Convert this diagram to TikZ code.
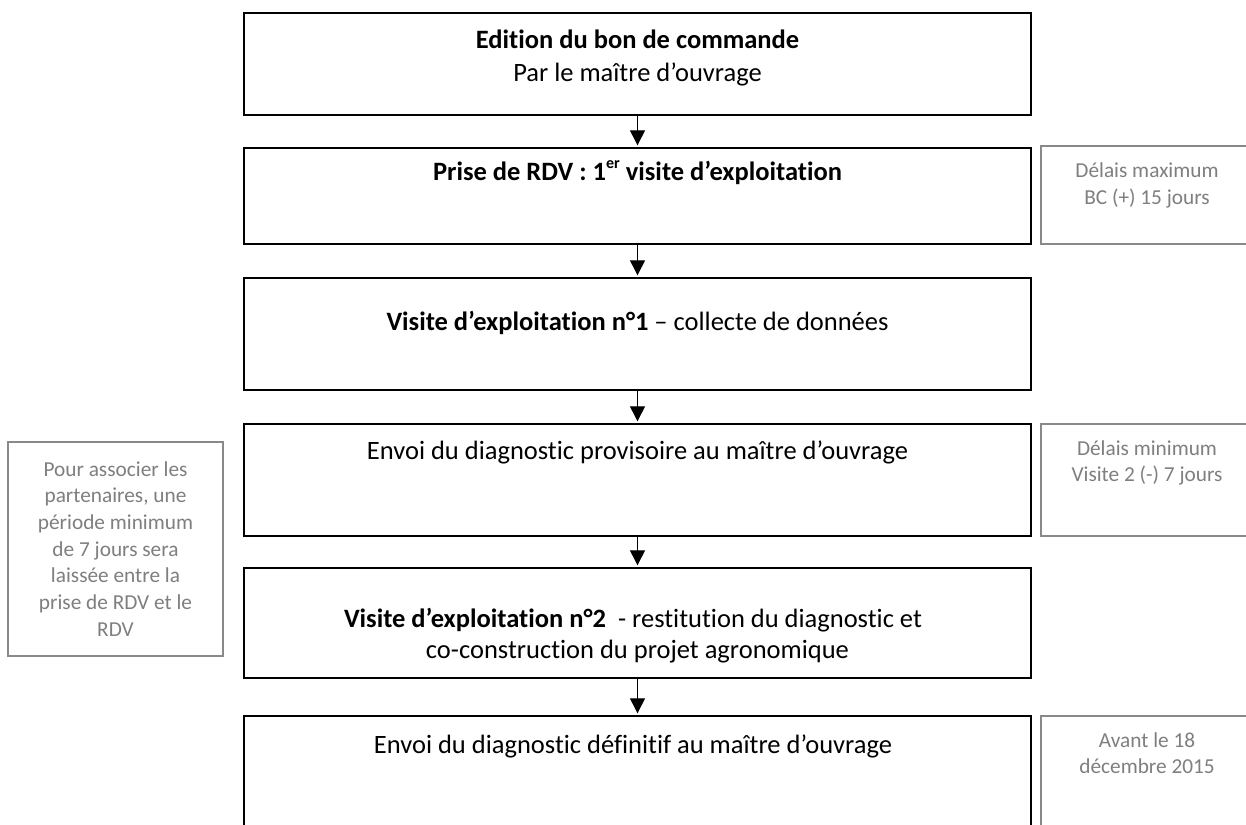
\documentclass[tikz,border=0pt]{standalone}
\usepackage{fontspec}
\setmainfont{Carlito}[Ligatures={NoCommon}]
\usetikzlibrary{arrows.meta}
\definecolor{sidegray}{HTML}{898989}
\definecolor{sidetext}{HTML}{7F7F7F}
\tikzset{
  mainbox/.style={draw=black, line width=1.4pt, rectangle, inner sep=0pt, minimum width=787pt},
  sidebox/.style={draw=sidegray, line width=1.3pt, rectangle, inner sep=0pt},
  maintext/.style={inner sep=0pt, anchor=base, font=\fontsize{26.5}{31}\selectfont, text=black},
  sidetxt/.style={inner sep=0pt, anchor=base, font=\fontsize{21.3}{26}\selectfont, text=sidetext},
  flow/.style={line width=1.3pt, -{Triangle[length=15pt,width=15pt]}, shorten >=2pt}
}
\begin{document}
\begin{tikzpicture}[x=1pt,y=-1pt]
\useasboundingbox (0,0) rectangle (1246,824);
\clip (0,0) rectangle (1246,824);
\fill[white] (0,0) rectangle (1246,824);

% main boxes
\node[mainbox, minimum height=102pt] (b1) at (637.5,64) {};
\node[mainbox, minimum height=96pt]  (b2) at (637.5,196) {};
\node[mainbox, minimum height=112pt] (b3) at (637.5,334) {};
\node[mainbox, minimum height=112pt] (b4) at (637.5,480) {};
\node[mainbox, minimum height=110pt] (b5) at (637.5,623) {};
\node[mainbox, minimum height=114pt] (b6) at (637.5,773) {};

% side boxes
\node[sidebox, minimum width=212pt, minimum height=98pt]  (s1) at (1147,195) {};
\node[sidebox, minimum width=212pt, minimum height=112pt] (s2) at (1147,480) {};
\node[sidebox, minimum width=212pt, minimum height=114pt] (s3) at (1147,773) {};
\node[sidebox, minimum width=215pt, minimum height=214pt] (lb) at (115.5,549) {};

% arrows
\draw[flow] (b1.south) -- (b2.north);
\draw[flow] (b2.south) -- (b3.north);
\draw[flow] (b3.south) -- (b4.north);
\draw[flow] (b4.south) -- (b5.north);
\draw[flow] (b5.south) -- (b6.north);

% main texts
\node[maintext] (t1a) at (637.5,49) {\bfseries Edition du bon de commande};
\node[maintext] (t1b) at (637.5,82) {Par le maître d’ouvrage};
\node[maintext] (t2) at (637.5,180) {\bfseries Prise de RDV : 1\raisebox{0.42em}{\fontsize{16}{16}\selectfont er} visite d’exploitation};
\node[maintext] (t3) at (637.5,330) {\textbf{Visite d’exploitation n°1} – collecte de données};
\node[maintext] (t4) at (637.5,459) {Envoi du diagnostic provisoire au maître d’ouvrage};
\node[maintext] (t5a) at (633,627) {\textbf{Visite d’exploitation n°2}\hspace{0.23em} - restitution du diagnostic et};
\node[maintext] (t5b) at (637.5,658) {co-construction du projet agronomique};
\node[maintext] (t6) at (633,753) {Envoi du diagnostic définitif au maître d’ouvrage};

% side texts
\node[sidetxt] (u1a) at (1147,177) {Délais maximum};
\node[sidetxt] (u1b) at (1147,204) {BC (+) 15 jours};
\node[sidetxt] (u2a) at (1147,455) {Délais minimum};
\node[sidetxt] (u2b) at (1147,481) {Visite 2 (-) 7 jours};
\node[sidetxt] (u3a) at (1147,747) {Avant le 18};
\node[sidetxt] (u3b) at (1147,773) {décembre 2015};

\foreach \t [count=\i] in {Pour associer les, {partenaires, une}, période minimum, de 7 jours sera, laissée entre la, prise de RDV et le, RDV}
  \node[sidetxt] (l\i) at (115.5,{476+26.67*(\i-1)}) {\t};
\end{tikzpicture}
\end{document}
